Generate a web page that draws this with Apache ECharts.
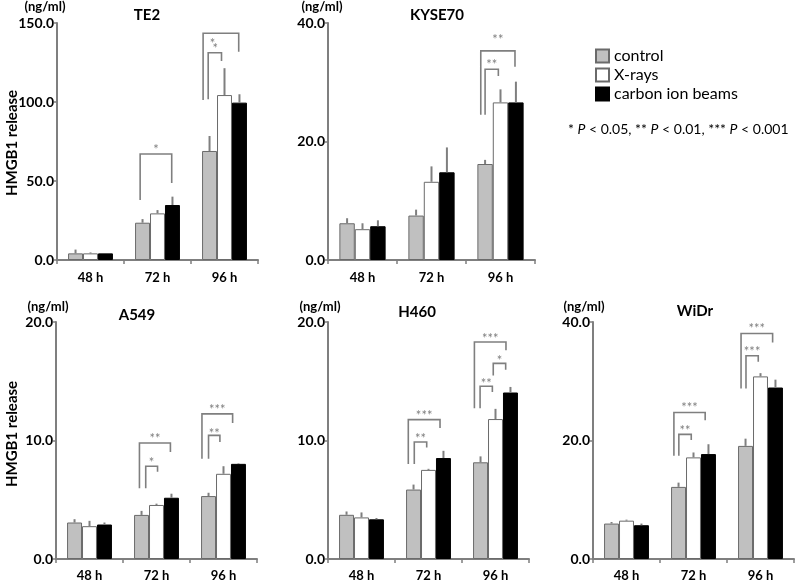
<!DOCTYPE html>
<html>
<head>
<meta charset="utf-8">
<script src="https://cdn.jsdelivr.net/npm/echarts@6/dist/echarts.min.js"></script>
<style>html,body{margin:0;padding:0;background:#fff}#c{width:795px;height:582px}</style>
</head>
<body>
<div id="c"></div>
<script>
// ---------- data ----------
const categories = ['48 h', '72 h', '96 h'];
const seriesNames = ['control', 'X-rays', 'carbon ion beams'];
const panelNames = ['TE2', 'KYSE70', 'A549', 'H460', 'WiDr'];
const panelMax = [150, 40, 20, 20, 40];
const panelInterval = [50, 20, 10, 10, 20];

// means [control, X-rays, carbon] x [48h, 72h, 96h]
const te2Means = [[4.2, 23.6, 69.0], [4.2, 29.5, 104.4], [4.2, 34.8, 99.6]];
const te2Errors = [[2.4, 2.3, 9.5], [0.6, 2.1, 17.0], [0, 5.3, 5.3]];
const kyse70Means = [[6.2, 7.5, 16.2], [5.2, 13.2, 26.6], [5.7, 14.8, 26.6]];
const kyse70Errors = [[0.85, 1.0, 0.7], [1.0, 2.6, 2.2], [1.0, 4.2, 3.5]];
const a549Means = [[3.08, 3.72, 5.31], [2.77, 4.56, 7.19], [2.91, 5.17, 8.03]];
const a549Errors = [[0.28, 0.34, 0.28], [0.45, 0.11, 0.64], [0.17, 0.34, 0.05]];
const h460Means = [[3.73, 5.86, 8.16], [3.51, 7.52, 11.81], [3.35, 8.52, 14.05]];
const h460Errors = [[0.28, 0.42, 0.5], [0.42, 0.09, 0.86], [0.11, 0.61, 0.47]];
const widrMeans = [[5.98, 12.17, 19.09], [6.47, 17.15, 30.82], [5.70, 17.71, 28.94]];
const widrErrors = [[0.27, 0.72, 1.22], [0.17, 0.83, 0.55], [0.28, 1.66, 1.33]];

// significance brackets: [category, left bar pos, right bar pos, top, left leg end, right leg end, label, label value, label bar pos]
const te2Brackets = [
  [1, -0.16, 1.95, 67.1, 38.0, 48.7, '*', 71.5],
  [2, -0.43, 1.95, 143.5, 101.3, 131.8, '*', 138.8, 0.2],
  [2, -0.09, 0.8, 131.2, 101.7, 126.0, '*', 135.4, 0.39]
];
const kyse70Brackets = [
  [2, -0.28, 1.94, 35.3, 24.5, 32.6, '**', 37.6],
  [2, 0, 0.86, 32.2, 24.5, 31.05, '**', 33.5]
];
const a549Brackets = [
  [1, -0.14, 1.93, 9.79, 5.96, 9.03, '**', 10.4],
  [1, 0.28, 1.07, 7.83, 5.96, 7.36, '*', 8.33],
  [2, -0.44, 1.61, 12.25, 8.47, 11.47, '***', 12.87],
  [2, 0, 0.76, 10.43, 8.47, 9.87, '**', 10.85]
];
const h460Brackets = [
  [1, -0.35, 1.77, 11.76, 8.02, 11.06, '***', 12.31],
  [1, 0.05, 0.88, 9.87, 8.02, 9.40, '**', 10.37],
  [2, -0.41, 1.7, 18.31, 12.72, 17.62, '***', 18.8],
  [2, -0.03, 0.79, 14.58, 12.72, 14.1, '**', 15.07],
  [2, 0.85, 1.68, 16.51, 15.49, 15.96, '*', 17.0]
];
const widrBrackets = [
  [1, -0.31, 1.78, 24.73, 17.43, 23.4, '***', 26.1],
  [1, 0.02, 0.85, 21.03, 17.43, 20.08, '**', 22.13],
  [2, -0.3, 1.81, 38.07, 28.77, 36.52, '***', 39.28],
  [2, 0.03, 0.85, 34.3, 28.77, 33.3, '***', 35.52]
];

const allMeans = [te2Means, kyse70Means, a549Means, h460Means, widrMeans];
const allErrors = [te2Errors, kyse70Errors, a549Errors, h460Errors, widrErrors];
const allBrackets = [te2Brackets, kyse70Brackets, a549Brackets, h460Brackets, widrBrackets];

// ---------- styling / layout ----------
const FONT = 'Lato, "Open Sans", sans-serif';
const GREY = '#7f7f7f';
const BAR_FRAC = 0.67; // 1 - barCategoryGap
const grids = [
  {left: 57, top: 23, width: 201, height: 237},
  {left: 328, top: 23, width: 207, height: 237},
  {left: 56, top: 322, width: 201, height: 240},
  {left: 328, top: 322, width: 201, height: 240},
  {left: 593, top: 322, width: 201, height: 240}
];
const barStyles = [
  {color: '#c0c0c0', borderColor: '#6a6a6a', borderWidth: 1},
  {color: '#ffffff', borderColor: '#6a6a6a', borderWidth: 1},
  {color: '#000000', borderColor: '#000000', borderWidth: 1}
];
const titlePos = [[147, 15], [437, 15], [137, 315], [417, 312], [695, 311]];
const unitPos = [[45, 7], [322, 7], [48, 307], [320, 307], [584, 307]];

const xAxes = [], yAxes = [], series = [];
for (let p = 0; p < 5; p++) {
  xAxes.push({
    type: 'category', gridIndex: p, data: categories,
    axisLine: {lineStyle: {color: GREY, width: 2}},
    axisTick: {show: true, length: 4, lineStyle: {color: GREY, width: 1.5}},
    axisLabel: {color: '#000', fontWeight: 'bold', fontSize: 13, fontFamily: FONT, margin: p < 2 ? 11 : 10}
  });
  yAxes.push({
    type: 'value', gridIndex: p, min: 0, max: panelMax[p], interval: panelInterval[p],
    axisLine: {show: true, lineStyle: {color: GREY, width: 2}},
    axisTick: {show: true, length: 3, lineStyle: {color: GREY, width: 1.5}},
    splitLine: {show: false},
    axisLabel: {color: '#000', fontWeight: 'bold', fontSize: 14, fontFamily: FONT, margin: 3,
      formatter: v => v.toFixed(1)}
  });
  for (let s = 0; s < 3; s++) {
    series.push({
      type: 'bar', name: seriesNames[s], xAxisIndex: p, yAxisIndex: p,
      data: allMeans[p][s], barGap: '0%', barCategoryGap: '33%',
      itemStyle: barStyles[s], silent: true, z: 2
    });
  }
  // error bars
  const errData = [];
  allMeans[p].forEach((arr, s) => arr.forEach((v, c) => errData.push([c, v, allErrors[p][s][c], s])));
  series.push({
    type: 'custom', xAxisIndex: p, yAxisIndex: p, silent: true, clip: false, z: 3,
    encode: {x: 0, y: 1}, data: errData,
    renderItem(params, api) {
      const c = api.value(0), v = api.value(1), e = api.value(2), s = api.value(3);
      if (!(e > 0)) return null;
      const base = api.coord([c, v]);
      const top = api.coord([c, v + e]);
      const bw = api.size([1, 0])[0] * BAR_FRAC / 3;
      const x = base[0] + (s - 1) * bw;
      return {type: 'line', shape: {x1: x, y1: base[1], x2: x, y2: top[1]},
        style: {stroke: GREY, lineWidth: 2}};
    }
  });
  // significance brackets
  const br = allBrackets[p];
  series.push({
    type: 'custom', xAxisIndex: p, yAxisIndex: p, silent: true, clip: false, z: 4,
    encode: {x: 0, y: 1}, data: br.map(b => [b[0], b[3]]),
    renderItem(params, api) {
      const b = br[params.dataIndex];
      const center = api.coord([b[0], 0])[0];
      const bw = api.size([1, 0])[0] * BAR_FRAC / 3;
      const px = q => center + (q - 1) * bw;
      const py = v => api.coord([b[0], v])[1];
      const xl = px(b[1]), xr = px(b[2]);
      const lx = b[8] != null ? px(b[8]) : (xl + xr) / 2;
      return {type: 'group', children: [
        {type: 'polyline', shape: {points: [[xl, py(b[4])], [xl, py(b[3])], [xr, py(b[3])], [xr, py(b[5])]]},
          style: {stroke: GREY, lineWidth: 1.6, fill: 'none'}},
        {type: 'text', style: {text: b[6], x: lx, y: py(b[7]) + 3, align: 'center', verticalAlign: 'middle',
          fill: GREY, fontSize: 13, fontFamily: FONT}}
      ]};
    }
  });
}

const graphics = [];
for (let p = 0; p < 5; p++) {
  graphics.push({type: 'text', x: titlePos[p][0], y: titlePos[p][1],
    style: {text: panelNames[p], align: 'center', verticalAlign: 'middle', fill: '#000',
      font: 'bold 15px ' + FONT}});
  graphics.push({type: 'text', x: unitPos[p][0], y: unitPos[p][1],
    style: {text: '(ng/ml)', align: 'center', verticalAlign: 'middle', fill: '#000',
      font: 'bold 13px ' + FONT}});
}
graphics.push({type: 'text', x: 12, y: 143, rotation: Math.PI / 2,
  style: {text: 'HMGB1 release', align: 'center', verticalAlign: 'middle', fill: '#000', font: 'bold 15px ' + FONT}});
graphics.push({type: 'text', x: 12, y: 434, rotation: Math.PI / 2,
  style: {text: 'HMGB1 release', align: 'center', verticalAlign: 'middle', fill: '#000', font: 'bold 15px ' + FONT}});
graphics.push({type: 'text', x: 568, y: 129,
  style: {text: '{a|* }{i|P}{a| < 0.05, ** }{i|P}{a| < 0.01, *** }{i|P}{a| < 0.001}',
    verticalAlign: 'middle', align: 'left',
    rich: {a: {fontSize: 14, fontFamily: FONT, fill: '#000', color: '#000'},
           i: {fontSize: 14, fontFamily: FONT, fontStyle: 'italic', fill: '#000', color: '#000'}}}});

const chart = echarts.init(document.getElementById('c'), null, {renderer: 'canvas'});
chart.setOption({
  animation: false,
  backgroundColor: '#fff',
  legend: {
    data: seriesNames, orient: 'vertical', left: 590, top: 43, selectedMode: false,
    icon: 'rect', itemWidth: 13, itemHeight: 13, itemGap: 3,
    textStyle: {fontSize: 16, fontFamily: FONT, color: '#000'}
  },
  grid: grids,
  xAxis: xAxes,
  yAxis: yAxes,
  series: series,
  graphic: graphics
});
</script>
</body>
</html>
